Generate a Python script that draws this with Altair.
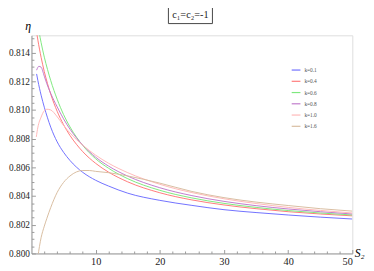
import altair as alt
import pandas as pd

# ---- data ----
labels = ["k=0.1", "k=0.4", "k=0.6", "k=0.8", "k=1.0", "k=1.6"]
colors = ["#7070ff", "#ff7a7a", "#7ee87e", "#c07ccc", "#ffb8b8", "#d8bca0"]

x_k01 = [0.8, 1, 1.5, 2, 2.5, 3, 4, 5, 6, 7, 8, 10, 12, 15, 20, 25, 30, 35, 40, 45, 50]
y_k01 = [0.81251, 0.81204, 0.81103, 0.81019, 0.80945, 0.8088, 0.80778, 0.80705, 0.80648, 0.80602,
         0.80565, 0.8051, 0.8047, 0.8042, 0.8037, 0.80335, 0.80305, 0.80285, 0.80268, 0.80253, 0.8024]

x_k04 = [0.8, 1, 1.5, 2, 2.5, 3, 4, 5, 6, 7, 8, 10, 12, 15, 20, 25, 30, 35, 40, 45, 50]
y_k04 = [0.8154, 0.81486, 0.81367, 0.81267, 0.81183, 0.8111, 0.80991, 0.80897, 0.80822, 0.80761,
         0.80709, 0.80628, 0.80567, 0.80499, 0.80423, 0.80373, 0.80338, 0.80312, 0.80291, 0.80275, 0.80262]

x_k06 = [1.2, 1.5, 2, 2.5, 3, 4, 5, 6, 7, 8, 10, 12, 15, 20, 25, 30, 35, 40, 45, 50]
y_k06 = [0.81539, 0.8147, 0.81368, 0.81282, 0.81205, 0.81075, 0.80968, 0.80882, 0.80811, 0.80752,
         0.8066, 0.80594, 0.80521, 0.8044, 0.80387, 0.80349, 0.80321, 0.80299, 0.80282, 0.80268]

x_k08 = [0.8, 1.15, 1.5, 2, 2.4, 3, 4, 5, 6, 7, 8, 10, 12, 15, 20, 25, 30, 35, 40, 45, 50]
y_k08 = [0.81277, 0.81304, 0.81298, 0.81235, 0.81182, 0.81115, 0.81022, 0.80938, 0.80866, 0.80806,
         0.80755, 0.80671, 0.80609, 0.80539, 0.80458, 0.80403, 0.80363, 0.80333, 0.8031, 0.80291, 0.80275]

x_k10 = [0.75, 1, 1.5, 2, 2.4, 3, 3.9, 5, 6, 7, 8, 10, 12, 15, 20, 25, 30, 35, 40, 45, 50]
y_k10 = [0.80812, 0.8088, 0.8095, 0.80995, 0.81005, 0.81, 0.80959, 0.80892, 0.8084, 0.80794, 0.80754,
         0.80685, 0.80629, 0.80563, 0.80482, 0.80424, 0.80381, 0.80348, 0.80321, 0.803, 0.80282]

x_k16 = [1.0, 1.5, 2, 2.4, 3, 4, 5, 6, 7, 8, 9, 10, 12, 15, 20, 25, 30, 35, 40, 45, 50]
y_k16 = [0.7998, 0.8011, 0.8019, 0.80245, 0.8032, 0.80425, 0.80495, 0.8054, 0.80568, 0.80578, 0.80578,
         0.80572, 0.80563, 0.8054, 0.8049, 0.80432, 0.80389, 0.80358, 0.80334, 0.80312, 0.80295]

series_x = [x_k01, x_k04, x_k06, x_k08, x_k10, x_k16]
series_y = [y_k01, y_k04, y_k06, y_k08, y_k10, y_k16]

x_major = [10, 20, 30, 40, 50]
x_minor = [2, 4, 6, 8, 12, 14, 16, 18, 22, 24, 26, 28, 32, 34, 36, 38, 42, 44, 46, 48]
y_major = [0.800, 0.802, 0.804, 0.806, 0.808, 0.810, 0.812, 0.814]
y_minor = [0.8005, 0.801, 0.8015, 0.8025, 0.803, 0.8035, 0.8045, 0.805, 0.8055, 0.8065,
           0.807, 0.8075, 0.8085, 0.809, 0.8095, 0.8105, 0.811, 0.8115, 0.8125, 0.813, 0.8135, 0.8145, 0.815]

rows = []
for lab, xs_, ys_ in zip(labels, series_x, series_y):
    for i, (a, b) in enumerate(zip(xs_, ys_)):
        rows.append({"k": lab, "S2": a, "eta": b, "i": i})
df = pd.DataFrame(rows)

W, H = 328, 223
FONT = "Liberation Serif"
xs = alt.Scale(domain=[0, 50], nice=False, zero=False)
ys = alt.Scale(domain=[0.800, 0.8152], nice=False, zero=False)
AX = "#9a9a9a"

lines = alt.Chart(df).mark_line(clip=True, strokeWidth=1, interpolate="monotone").encode(
    x=alt.X("S2:Q", scale=xs, axis=alt.Axis(
        values=x_major, ticks=False, grid=False, domainColor=AX, labelFont=FONT,
        labelFontSize=10.5, labelColor="#222", labelPadding=3,
        title="S₂", titleFont=FONT, titleFontStyle="italic", titleFontWeight="normal",
        titleFontSize=12, titleX=330, titleY=3, titleAlign="left", titleBaseline="alphabetic")),
    y=alt.Y("eta:Q", scale=ys, axis=alt.Axis(
        values=y_major, format=".3f", ticks=False, grid=False, domainColor=AX, labelFont=FONT,
        labelFontSize=9.5, labelColor="#222", labelPadding=2,
        title="η", titleFont=FONT, titleFontStyle="italic", titleFontWeight="normal",
        titleFontSize=12, titleAngle=0, titleX=-4, titleY=-6, titleAlign="center",
        titleBaseline="alphabetic")),
    color=alt.Color("k:N", scale=alt.Scale(domain=labels, range=colors), legend=alt.Legend(
        title=None, orient="none", legendX=265, legendY=30, symbolType="stroke",
        symbolSize=80, symbolStrokeWidth=1.2, labelFont=FONT, labelFontSize=5.5,
        labelColor="#555", rowPadding=2.5, labelOffset=3)),
    order="i:Q",
    detail="k:N",
)

def tick_layer(xvals, yvals, size):
    return alt.Chart(df).mark_point(opacity=0).encode(
        x=alt.X("S2:Q", scale=xs, axis=alt.Axis(
            orient="top", offset=-H, values=xvals, labels=False, domain=False, grid=False,
            ticks=True, tickSize=size, tickColor=AX, title=None)),
        y=alt.Y("eta:Q", scale=ys, axis=alt.Axis(
            orient="right", offset=-W, values=yvals, labels=False, domain=False, grid=False,
            ticks=True, tickSize=size, tickColor=AX, title=None)),
    )

major = tick_layer(x_major, y_major, 4)
minor = tick_layer(x_minor, y_minor, 2.5)

one = pd.DataFrame({"a": [0]})
box = alt.Chart(one).mark_rect(fill="white", stroke="#444", strokeWidth=1).encode(
    x=alt.value(140), x2=alt.value(185), y=alt.value(-29), y2=alt.value(-12))
title = alt.Chart(one).mark_text(font=FONT, fontSize=10.5, color="#222").encode(
    x=alt.value(162.5), y=alt.value(-20.5), text=alt.value("c₁=c₂=-1"))

chart = alt.layer(lines, major, minor, box, title).resolve_axis(
    x="independent", y="independent").properties(
    width=W, height=H, autosize=alt.AutoSizeParams(type="none"),
    padding={"left": 24, "top": 25, "right": 14, "bottom": 15},
).configure_view(stroke=None).configure(background="white")

chart.save("out.html", embed_options={"renderer": "svg", "actions": False})
